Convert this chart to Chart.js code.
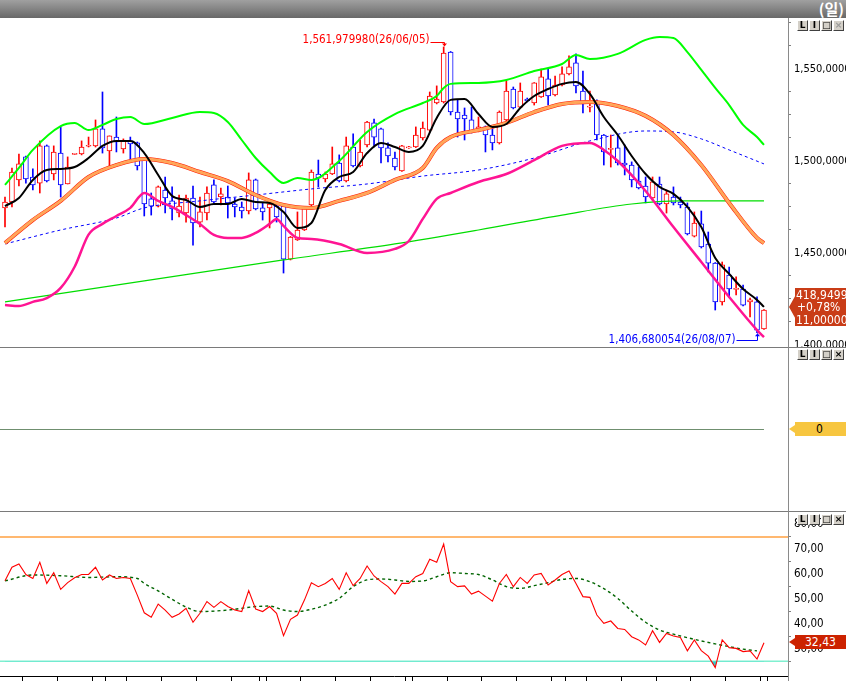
<!DOCTYPE html>
<html><head><meta charset="utf-8">
<script src="https://cdn.jsdelivr.net/npm/chart.js@4.4.1/dist/chart.umd.min.js"></script>
<style>
html,body{margin:0;padding:0;background:#fff;overflow:hidden;}
#wrap{position:relative;width:846px;height:681px;background:#fff;overflow:hidden;font-family:'Liberation Sans Narrow','DejaVu Sans Condensed',sans-serif;}
canvas{position:absolute;left:0;}
#title{position:absolute;left:0;top:0;width:846px;height:18px;background:linear-gradient(#a0a0a0,#686868);}
#title span{position:absolute;right:2px;top:0px;color:#fff;font:bold 15px 'Noto Sans CJK KR',sans-serif;line-height:18px;}
.hline{position:absolute;left:0;width:846px;height:1px;background:#7a7a7a;}
.vline{position:absolute;left:788px;top:18px;width:1px;height:663px;background:#8a8a8a;}
.btns{position:absolute;left:797px;display:flex;gap:1px;}
.btns span{display:block;width:9px;height:9px;border:1px solid;border-color:#fff #404040 #404040 #fff;background:#d4d0c8;font:bold 9px 'DejaVu Sans',sans-serif;line-height:9px;text-align:center;color:#000;}
.btns span.g{color:#999;}
.box{position:absolute;left:789px;width:57px;clip-path:polygon(0 50%,6px 22%,6px 0,100% 0,100% 100%,6px 100%,6px 78%);}
#pbox{top:288px;height:38px;background:#c93c17;color:#fff;font-size:12px;line-height:12.3px;padding-top:1px;box-sizing:border-box;padding-left:7px;white-space:nowrap;}
#pl2{padding-left:1px;}
#zbox{top:422px;height:14px;background:#f7c640;color:#000;font-size:12px;line-height:14px;text-align:center;padding-left:4px;box-sizing:border-box;}
#rbox{top:635px;height:14px;background:#cc2200;color:#fff;font-size:12px;line-height:14px;padding-left:16px;box-sizing:border-box;}
</style></head>
<body>
<div id="wrap">
  <div id="title"><span>(일)</span></div>
  <canvas id="c1" width="846" height="329" style="top:18px"></canvas>
  <canvas id="c2" width="846" height="163" style="top:348px"></canvas>
  <canvas id="c3" width="846" height="169" style="top:512px"></canvas>
  <div class="hline" style="top:347px"></div>
  <div class="hline" style="top:511px"></div>
  <div class="vline"></div>
  <div class="btns" style="top:20px"><span>L</span><span>I</span><span>□</span><span class="g">×</span></div>
  <div class="btns" style="top:349px"><span>L</span><span>I</span><span>□</span><span>×</span></div>
  <div class="btns" style="top:514px"><span>L</span><span>I</span><span>□</span><span>×</span></div>
  <div id="pbox" class="box"><div id="pl1"></div><div id="pl2"></div><div id="pl3">11,000000</div></div>
  <div id="zbox" class="box">0</div>
  <div id="rbox" class="box"></div>
</div>
<script>
// ---------------- DATA ----------------
const opens  = [1474.5,1477.7,1489.7,1502.2,1491.3,1488.0,1508.2,1492.9,1504.3,1487.5,1503.6,1503.8,1508.0,1508.2,1517.4,1505.4,1513.0,1506.5,1510.9,1509.8,
1501.6,1479.4,1475.5,1484.2,1478.3,1471.7,1471.7,1479.9,1466.8,1471.7,1487.0,1480.4,1480.4,1476.6,1475.0,1472.8,1489.7,1474.5,1474.5,1475.5,
1475.5,1446.7,1457.1,1462.5,1476.1,1492.9,1490.2,1492.9,1498.9,1489.1,1507.6,1497.3,1508.7,1520.7,1517.4,1507.1,1501.6,1494.6,1507.1,1507.6,
1512.5,1516.8,1531.5,1532.1,1559.2,1526.6,1525.0,1522.3,1516.3,1518.5,1514.1,1509.8,1522.3,1539.1,1529.3,1533.7,1531.5,1534.8,1544.6,1535.9,
1541.3,1547.3,1553.3,1538.0,1529.3,1531.5,1514.1,1506.3,1507.1,1498.9,1497.8,1489.1,1486.4,1479.9,1487.5,1476.6,1480.4,1477.7,1475.0,1459.2,
1465.8,1454.9,1444.5,1423.4,1438.0,1430.2,1430.4,1423.4,1423.4,1408.7];
const highs  = [1480.4,1496.2,1503.8,1502.7,1495.7,1510.9,1508.7,1508.2,1518.5,1502.2,1504.0,1510.9,1513.0,1522.3,1537.5,1513.6,1523.9,1512.0,1513.0,1510.3,
1501.6,1482.6,1486.4,1491.3,1485.9,1481.5,1481.5,1486.4,1480.4,1485.9,1489.7,1485.3,1486.4,1479.9,1477.7,1493.5,1490.2,1477.2,1478.8,1477.7,
1476.0,1459.0,1472.3,1475.3,1495.1,1500.5,1494.0,1507.6,1503.3,1513.0,1514.7,1511.4,1521.5,1522.8,1517.9,1509.8,1504.9,1508.5,1508.0,1518.5,
1521.2,1537.5,1540.8,1561.97998,1559.5,1533.2,1528.8,1529.3,1523.9,1519.0,1518.5,1527.2,1543.5,1540.2,1542.4,1534.2,1542.6,1550.0,1550.0,1546.2,
1551.1,1557.1,1558.2,1548.9,1538.0,1533.2,1514.4,1514.1,1514.1,1508.7,1499.5,1496.7,1491.3,1491.3,1491.3,1484.2,1485.9,1480.4,1477.2,1472.3,
1472.8,1461.4,1444.8,1445.1,1442.4,1437.0,1432.6,1425.5,1426.1,1419.2];
const lows   = [1464.1,1475.0,1486.4,1488.0,1484.2,1482.6,1488.6,1489.7,1480.4,1487.5,1503.5,1503.3,1507.6,1507.6,1504.3,1496.7,1504.9,1504.3,1500.5,1495.1,
1470.1,1470.6,1475.0,1471.7,1467.9,1469.6,1466.8,1454.3,1464.1,1467.9,1477.2,1476.1,1469.0,1469.6,1469.0,1471.2,1473.4,1467.9,1463.6,1466.8,
1439.1,1446.2,1456.8,1462.2,1475.5,1485.9,1488.6,1492.6,1488.6,1488.6,1496.7,1496.7,1507.6,1507.6,1498.9,1499.5,1495.1,1494.3,1506.8,1507.3,
1511.4,1515.8,1531.0,1531.5,1525.0,1513.0,1511.4,1515.2,1515.8,1504.9,1506.0,1509.2,1521.7,1528.3,1528.8,1532.1,1530.4,1534.5,1530.4,1535.3,
1540.8,1546.7,1537.0,1526.1,1526.6,1511.4,1497.8,1496.7,1497.8,1492.4,1485.9,1484.8,1477.2,1478.8,1476.1,1471.7,1476.1,1474.5,1459.8,1458.7,
1452.7,1439.7,1419.0,1421.7,1426.1,1427.2,1421.2,1415.2,1406.680054,1408.4];
const closes = [1477.7,1494.0,1498.4,1490.2,1487.0,1508.2,1489.1,1504.9,1487.0,1496.7,1503.8,1507.6,1508.2,1517.4,1507.1,1513.6,1510.3,1510.9,1509.2,1497.3,
1476.6,1475.5,1485.9,1479.9,1473.9,1475.5,1479.9,1466.3,1472.3,1482.6,1477.7,1482.1,1477.2,1475.0,1472.8,1489.7,1473.9,1472.3,1476.6,1469.6,
1446.7,1458.7,1462.5,1475.0,1494.0,1490.8,1492.9,1498.4,1489.1,1508.2,1497.3,1504.9,1521.2,1513.0,1507.1,1502.7,1496.7,1508.2,1507.6,1514.1,
1517.9,1535.3,1533.7,1558.7,1526.6,1522.8,1522.8,1516.3,1518.5,1514.1,1509.8,1526.6,1538.0,1528.8,1538.0,1532.6,1542.4,1545.7,1535.3,1541.3,
1547.3,1551.1,1540.8,1531.0,1529.6,1514.1,1504.9,1506.5,1498.9,1497.8,1489.7,1485.3,1480.4,1488.6,1476.6,1482.1,1477.2,1476.1,1460.3,1466.3,
1453.3,1444.5,1423.4,1443.5,1430.4,1430.4,1421.7,1424.5,1408.0,1418.94995];

const ma5Idx = [0,2,4,6,8,10,12,14,16,18,20,22,24,26,28,30,32,34,36,38,40,42,44,46,48,50,52,54,56,58,60,62,64,66,68,70,72,74,76,78,80,82,84,86,88,90,92,94,96,98,100,102,104,106,108,109];
const ma5 = [1475.5,1479.9,1489.7,1495.1,1495.7,1496.7,1501.6,1508.2,1510.9,1510.9,1504.3,1492.4,1481.0,1478.8,1475.0,1476.6,1476.6,1479.4,1477.7,1477.2,
1472.3,1463.6,1466.3,1484.2,1491.3,1494.0,1504.3,1509.8,1507.6,1504.9,1508.2,1523.4,1533.2,1533.7,1525.5,1518.5,1520.1,1528.8,1535.3,1539.1,
1541.9,1542.9,1536.4,1523.9,1514.1,1502.7,1492.9,1485.9,1482.1,1475.0,1464.1,1447.3,1438.6,1430.4,1424.5,1420.7];

const ma20Idx = [0,4,8,12,16,20,24,28,32,36,40,44,48,52,56,60,62,64,68,72,76,80,84,88,92,96,100,104,108,109];
const ma20 = [1455.4,1467.9,1478.3,1491.3,1497.8,1501.1,1498.9,1494.0,1489.1,1481.5,1476.1,1474.5,1478.3,1482.6,1489.7,1496.2,1507.1,1513.0,1516.8,1520.7,
1526.6,1531.0,1532.1,1529.9,1524.5,1514.1,1497.8,1477.2,1458.2,1455.4];

const bbUpIdx = [0,2,4,8,10,12,14,16,18,20,24,28,30,32,34,36,38,40,42,44,48,52,56,60,62,63,64,68,72,76,80,82,84,88,92,94,96,98,100,102,104,106,108,109];
const bbUp = [1487.0,1496.2,1506.0,1519.0,1520.7,1516.8,1519.6,1522.8,1523.9,1520.1,1523.4,1526.6,1526.1,1521.2,1511.4,1501.6,1494.0,1488.0,1490.8,1489.7,
1500.0,1515.8,1525.5,1531.5,1535.3,1539.7,1541.9,1542.4,1544.0,1548.9,1552.7,1557.6,1555.4,1558.2,1565.8,1567.4,1566.8,1559.2,1549.5,1539.7,
1530.4,1519.6,1513.0,1508.7];

const bbLowIdx = [0,2,4,6,8,10,12,14,16,18,20,22,24,26,28,30,32,34,36,38,39,40,42,44,48,52,56,58,60,62,64,68,72,76,80,84,86,88,92,96,100,104,108,109];
const bbLow = [1421.7,1421.2,1423.4,1425.5,1431.0,1442.5,1460.0,1465.8,1470.1,1474.5,1482.6,1478.3,1475.0,1470.6,1465.8,1459.8,1458.2,1458.2,1460.9,1465.8,
1468.5,1464.7,1458.2,1457.6,1454.9,1450.0,1452.2,1456.5,1468.5,1479.4,1482.6,1488.6,1492.9,1500.5,1508.2,1509.8,1506.0,1500.0,1483.7,1464.1,
1445.1,1426.1,1408.1,1404.3];

const ma60Idx = [0,8,16,20,28,36,44,52,60,68,76,84,92,96,100,104,109];
const ma60 = [1454.9,1462.5,1469.0,1474.5,1478.3,1481.5,1484.8,1487.5,1491.8,1495.1,1501.6,1510.9,1516.3,1515.8,1512.0,1506.0,1498.4];

const ma120Idx = [0,20,40,56,68,80,90,97,109];
const ma120 = [1423.4,1434.8,1446.2,1454.9,1462.5,1470.6,1476.6,1478.3,1478.3];

const rsi = [57.4,62.8,64.1,59.9,58.3,64.8,56.3,60.6,53.9,56.6,58.6,59.9,59.9,62.8,57.7,59.7,58.3,58.7,58.3,51.6,
44.5,42.7,48.0,45.6,42.7,44.0,46.3,40.7,44.3,49.0,46.7,49.0,47.0,45.6,45.0,53.4,46.0,45.0,47.0,44.3,
35.3,41.9,43.6,49.6,56.6,55.0,56.3,58.3,53.9,60.6,55.4,58.3,63.3,59.3,57.0,55.0,52.0,56.3,56.3,59.0,
60.3,66.0,64.8,72.1,57.0,55.0,55.3,52.0,53.2,51.2,49.2,56.3,59.9,55.0,58.7,56.3,59.7,60.3,55.7,57.7,
59.9,61.3,56.3,51.0,50.7,43.6,40.3,41.2,38.2,37.8,34.9,33.6,31.6,37.3,32.6,36.2,35.2,34.6,29.2,33.6,
29.3,27.1,22.5,33.6,30.5,30.2,28.9,29.2,25.9,32.43];

const sigIdx = [0,4,8,12,16,19,20,22,24,26,28,32,36,38,40,42,44,46,48,50,52,54,56,58,60,62,64,66,68,70,72,74,76,78,80,82,84,86,88,90,92,94,96,98,100,102,104,106,108];
const rsiSignal = [57.3,59.7,59.4,58.7,59.0,58.3,56.3,53.3,49.9,46.8,45.0,45.6,47.0,47.2,45.6,45.0,45.9,47.6,50.3,55.0,
57.7,58.1,57.7,57.1,57.3,59.0,60.6,60.3,59.9,57.7,55.0,54.3,55.4,56.6,57.9,58.3,57.0,54.2,50.3,45.2,
40.7,37.6,35.9,34.5,33.2,32.0,30.9,29.9,29.2];

const rsiLevels = [75, 25];
const priceTicks = [1400,1412.5,1425,1437.5,1450,1462.5,1475,1487.5,1500,1512.5,1525,1537.5,1550,1562.5,1575];
const rsiTicks = [25,30,35,40,45,50,55,60,65,70,75,80];
const xTickIdx = [2.5,7.5,12.5,14.5,17.5,22.5,27.5,32.5,36.5,37.5,42.5,47.5,52.5,57.5,58.5,63.5,68.5,73.5,78.5,80.5,83.5,88.5,93.5,98.5,103.5,108.5,109.5];
const highDate = '26/06/05', lowDate = '26/08/07';

// ---------------- SETUP ----------------
const FONT = "'Liberation Sans Narrow','DejaVu Sans Condensed',sans-serif";
Chart.defaults.font.family = FONT;
Chart.defaults.color = '#000';
const X_MIN = -0.718, X_MAX = 112.45;

function fmtNum(v, dec){
  const s = v.toFixed(dec); const parts = s.split('.');
  const ip = parts[0].replace(/\B(?=(\d{3})+(?!\d))/g, ',');
  return parts[1] ? ip + ',' + parts[1] : ip;
}
function pts(idx, vals){ return idx.map((k,j)=>({x:k, y:vals[j]})); }
function lineDS(data, color, width, order, extra){
  return Object.assign({type:'line', data, borderColor:color, borderWidth:width, pointRadius:0, fill:false,
    cubicInterpolationMode:'monotone', order}, extra||{});
}
function zeroPad(s){ s.paddingTop=0; s.paddingBottom=0; s.paddingLeft=0; s.paddingRight=0; }
const base = {responsive:false, animation:false, events:[], layout:{padding:0},
  plugins:{legend:{display:false}, tooltip:{enabled:false}}};
const xHidden = {type:'linear', min:X_MIN, max:X_MAX, display:false, offset:false};

const colors = closes.map((c,i)=> c >= opens[i] ? '#ff0000' : '#0000ff');
const bodies = opens.map((o,i)=>({x:i, y:[o, closes[i]]}));
const upWick = opens.map((o,i)=>({x:i, y:[Math.max(o,closes[i]), highs[i]]}));
const loWick = opens.map((o,i)=>({x:i, y:[lows[i], Math.min(o,closes[i])]}));

const extremaPlugin = {
  id:'extrema',
  afterDatasetsDraw(chart){
    const {ctx, scales:{x, y}} = chart;
    let hi = 0, lo = 0;
    highs.forEach((v,i)=>{ if (v > highs[hi]) hi = i; });
    lows.forEach((v,i)=>{ if (v < lows[lo]) lo = i; });
    ctx.save();
    ctx.font = "11.5px " + FONT;
    ctx.textBaseline = 'middle';
    ctx.textAlign = 'right';
    ctx.lineWidth = 1;
    // high
    let hx = Math.round(x.getPixelForValue(hi)) + 0.5, hy = y.getPixelForValue(highs[hi]);
    ctx.fillStyle = ctx.strokeStyle = '#ff0000';
    ctx.fillText(fmtNum(highs[hi], 6) + '(' + highDate + ')', hx - 15, hy - 7);
    ctx.beginPath(); ctx.moveTo(hx - 14, Math.round(hy - 5) + 0.5); ctx.lineTo(hx, Math.round(hy - 5) + 0.5);
    ctx.lineTo(hx, hy - 1); ctx.stroke();
    ctx.beginPath(); ctx.moveTo(hx - 2.5, hy - 3.5); ctx.lineTo(hx + 2.5, hy - 3.5); ctx.lineTo(hx, hy - 0.5); ctx.closePath(); ctx.fill();
    // low
    let lx = Math.round(x.getPixelForValue(lo)) + 0.5, ly = y.getPixelForValue(lows[lo]);
    ctx.fillStyle = ctx.strokeStyle = '#0000ff';
    ctx.fillText(fmtNum(lows[lo], 6) + '(' + lowDate + ')', lx - 22, ly + 7);
    ctx.beginPath(); ctx.moveTo(lx - 21, Math.round(ly + 7) + 0.5); ctx.lineTo(lx, Math.round(ly + 7) + 0.5);
    ctx.lineTo(lx, ly + 1); ctx.stroke();
    ctx.beginPath(); ctx.moveTo(lx - 2.5, ly + 3.5); ctx.lineTo(lx + 2.5, ly + 3.5); ctx.lineTo(lx, ly + 0.5); ctx.closePath(); ctx.fill();
    ctx.restore();
  }
};

// ---------------- MAIN PRICE PANEL ----------------
new Chart(document.getElementById('c1'), {
  type:'bar',
  data:{datasets:[
    lineDS(pts(ma5Idx, ma5), '#000000', 2, 0),
    lineDS(pts(bbLowIdx, bbLow), '#ff1493', 2.5, 1),
    lineDS(pts(bbUpIdx, bbUp), '#00ff00', 2, 2),
    lineDS(pts(ma20Idx, ma20), '#ffa65a', 3, 3),
    lineDS(pts(ma20Idx, ma20), '#ff1a00', 4, 4),
    lineDS(pts(ma60Idx, ma60), '#0000ff', 1, 5, {borderDash:[3,3]}),
    lineDS(pts(ma120Idx, ma120), '#00dd00', 1.2, 6),
    {type:'bar', data:bodies, backgroundColor:'#ffffff', borderColor:colors, borderWidth:1, borderSkipped:false,
      barThickness:5, grouped:false, minBarLength:1, order:8},
    {type:'bar', data:upWick, backgroundColor:colors, barThickness:1, grouped:false, order:9},
    {type:'bar', data:loWick, backgroundColor:colors, barThickness:1, grouped:false, order:9}
  ]},
  options:Object.assign({}, base, {
    scales:{
      x:xHidden,
      y:{position:'right', min:1398.9, max:1577.7,
        afterBuildTicks:s=>{ s.ticks = priceTicks.map(v=>({value:v})); },
        afterFit:s=>{ s.width = 58; zeroPad(s); },
        grid:{drawOnChartArea:false, drawTicks:true, tickLength:3,
          tickColor:c=> (c.tick && c.tick.value % 50 === 0) ? 'rgba(0,0,0,0)' : '#808080'},
        border:{display:false},
        ticks:{padding:3, autoSkip:false, font:{size:11}, color:'#000',
          callback:v=> (v % 50 === 0) ? fmtNum(v, 6) : ''}
      }
    }
  }),
  plugins:[extremaPlugin]
});

// ---------------- MIDDLE PANEL ----------------
new Chart(document.getElementById('c2'), {
  type:'line',
  data:{datasets:[
    lineDS([{x:X_MIN, y:0},{x:109, y:0}], '#6f8f6f', 1, 0)
  ]},
  options:Object.assign({}, base, {
    scales:{
      x:xHidden,
      y:{position:'right', min:-1, max:1, afterFit:s=>{ s.width = 58; zeroPad(s); },
        grid:{display:false}, border:{display:false}, ticks:{display:false}}
    }
  })
});

// ---------------- RSI PANEL ----------------
new Chart(document.getElementById('c3'), {
  type:'line',
  data:{datasets:[
    lineDS(rsi.map((v,i)=>({x:i, y:v})), '#ff0000', 1.1, 0,
      {cubicInterpolationMode:'default', tension:0, fill:{target:{value:25}, above:'rgba(0,0,0,0)', below:'#33cccc'}}),
    lineDS(pts(sigIdx, rsiSignal), '#006400', 1.4, 1, {borderDash:[3,3]}),
    lineDS([{x:X_MIN, y:rsiLevels[0]},{x:X_MAX, y:rsiLevels[0]}], '#ffa040', 1.5, 2),
    lineDS([{x:X_MIN, y:rsiLevels[1]},{x:X_MAX, y:rsiLevels[1]}], '#80f0d0', 1.5, 3)
  ]},
  options:Object.assign({}, base, {
    scales:{
      x:{type:'linear', min:X_MIN, max:X_MAX, offset:false, position:'bottom',
        afterBuildTicks:s=>{ s.ticks = xTickIdx.map(v=>({value:v})); },
        afterFit:s=>{ s.height = 5; zeroPad(s); },
        grid:{drawOnChartArea:false, drawTicks:true, tickLength:5, color:'#000'},
        border:{display:true, color:'#000', width:1},
        ticks:{display:false}},
      y:{position:'right', min:19.1, max:85.0,
        afterBuildTicks:s=>{ s.ticks = rsiTicks.map(v=>({value:v})); },
        afterFit:s=>{ s.width = 58; zeroPad(s); },
        grid:{drawOnChartArea:false, drawTicks:true, tickLength:3,
          tickColor:c=> (c.tick && c.tick.value % 10 === 0) ? 'rgba(0,0,0,0)' : '#808080'},
        border:{display:false},
        ticks:{padding:3, autoSkip:false, font:{size:11.5}, color:'#000',
          callback:v=> (v % 10 === 0) ? fmtNum(v, 2) : ''}
      }
    }
  })
});

// ---------------- RIGHT LABEL BOXES ----------------
const last = closes.length - 1;
document.getElementById('pl1').textContent = fmtNum(closes[last], 5).slice(2);
const chg = (closes[last] / closes[last-1] - 1) * 100;
document.getElementById('pl2').textContent = (chg >= 0 ? '+' : '') + fmtNum(chg, 2) + '%';
document.getElementById('rbox').textContent = fmtNum(rsi[rsi.length-1], 2);
</script>
</body></html>
